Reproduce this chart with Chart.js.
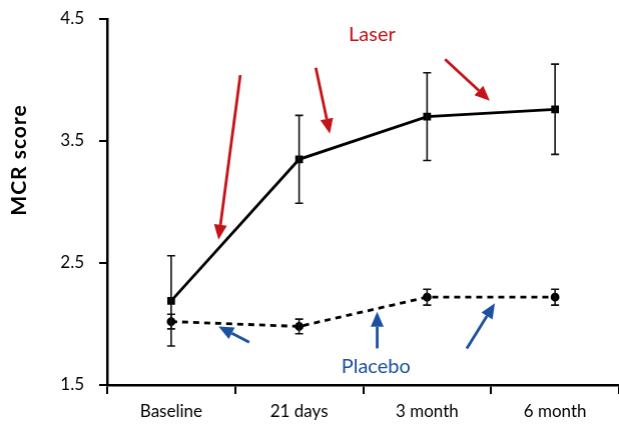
<!DOCTYPE html>
<html><head><meta charset="utf-8">
<script src="https://cdn.jsdelivr.net/npm/chart.js@4/dist/chart.umd.min.js"></script>
<style>html,body{margin:0;padding:0;background:#fff;overflow:hidden}#wrap{width:619px;height:425px}</style>
</head><body><div id="wrap"><canvas id="c"></canvas></div>
<script>
const categories = ['Baseline', '21 days', '3 month', '6 month'];
const laserValues = [2.19, 3.35, 3.70, 3.76];
const laserErrors = [0.37, 0.36, 0.36, 0.37];
const placeboValues = [2.02, 1.98, 2.22, 2.22];
const placeboErrors = [0.06, 0.06, 0.065, 0.065];
const yTicks = [1.5, 2.5, 3.5, 4.5];
const seriesLabels = ['Laser', 'Placebo'];
const yTitle = 'MCR score';

// annotation arrows in data space: [xIndexStart, valueStart, xIndexEnd, valueEnd]
const laserArrows = [[0.54, 4.04, 0.37, 2.69], [1.13, 4.10, 1.24, 3.56], [2.14, 4.17, 2.49, 3.83]];
const placeboArrows = [[0.61, 1.85, 0.37, 1.98], [1.61, 1.80, 1.61, 2.10], [2.31, 1.80, 2.53, 2.17]];
const laserLabelPos = [1.57, 4.37];
const placeboLabelPos = [1.60, 1.65];

const RED = '#c3141a', BLUE = '#1b51a0';
const FONT = 'Lato, "Open Sans", sans-serif';

function arrow(ctx, x1, y1, x2, y2, color) {
  const ang = Math.atan2(y2 - y1, x2 - x1);
  const hl = 15, hw = 6.5;
  const bx = x2 - hl * Math.cos(ang), by = y2 - hl * Math.sin(ang);
  ctx.save();
  ctx.strokeStyle = color; ctx.fillStyle = color; ctx.lineWidth = 2.8;
  ctx.beginPath(); ctx.moveTo(x1, y1); ctx.lineTo(bx, by); ctx.stroke();
  ctx.beginPath();
  ctx.moveTo(x2, y2);
  ctx.lineTo(bx + hw * Math.sin(ang), by - hw * Math.cos(ang));
  ctx.lineTo(bx - hw * Math.sin(ang), by + hw * Math.cos(ang));
  ctx.closePath(); ctx.fill();
  ctx.restore();
}

const extras = {
  id: 'extras',
  afterDatasetsDraw(chart) {
    const ctx = chart.ctx, xs = chart.scales.x, ys = chart.scales.y;
    ctx.save();
    ctx.strokeStyle = '#111'; ctx.lineWidth = 1.6;
    [[laserValues, laserErrors], [placeboValues, placeboErrors]].forEach(([vals, errs]) => {
      vals.forEach((v, i) => {
        const x = xs.getPixelForValue(i);
        const t = ys.getPixelForValue(v + errs[i]), b = ys.getPixelForValue(v - errs[i]);
        ctx.beginPath();
        ctx.moveTo(x, t); ctx.lineTo(x, b);
        ctx.moveTo(x - 4, t); ctx.lineTo(x + 4, t);
        ctx.moveTo(x - 4, b); ctx.lineTo(x + 4, b);
        ctx.stroke();
      });
    });
    ctx.restore();
    laserArrows.forEach(a => arrow(ctx, xs.getPixelForValue(a[0]), ys.getPixelForValue(a[1]), xs.getPixelForValue(a[2]), ys.getPixelForValue(a[3]), RED));
    placeboArrows.forEach(a => arrow(ctx, xs.getPixelForValue(a[0]), ys.getPixelForValue(a[1]), xs.getPixelForValue(a[2]), ys.getPixelForValue(a[3]), BLUE));
    ctx.save();
    ctx.textAlign = 'center'; ctx.textBaseline = 'middle';
    ctx.font = '20px ' + FONT;
    ctx.fillStyle = RED;
    ctx.fillText(seriesLabels[0], xs.getPixelForValue(laserLabelPos[0]), ys.getPixelForValue(laserLabelPos[1]));
    ctx.fillStyle = BLUE;
    ctx.fillText(seriesLabels[1], xs.getPixelForValue(placeboLabelPos[0]), ys.getPixelForValue(placeboLabelPos[1]));
    // y axis title
    ctx.translate(19, 160);
    ctx.rotate(-Math.PI / 2);
    ctx.fillStyle = '#000';
    ctx.font = 'bold 21px ' + FONT;
    try { ctx.letterSpacing = '1px'; } catch (e) {}
    ctx.fillText(yTitle, 0, 0);
    ctx.restore();
  }
};

const chart = new Chart(document.getElementById('c'), {
  type: 'line',
  data: {
    labels: categories,
    datasets: [
      { label: seriesLabels[0], data: laserValues, borderColor: '#000', backgroundColor: '#000', borderWidth: 2.8,
        pointStyle: 'rect', pointRadius: 3.5, tension: 0 },
      { label: seriesLabels[1], data: placeboValues, borderColor: '#000', backgroundColor: '#000', borderWidth: 2.8,
        borderDash: [6, 5], pointStyle: 'circle', pointRadius: 3, tension: 0 }
    ]
  },
  options: {
    responsive: true, maintainAspectRatio: false, animation: false,
    layout: { padding: { top: 19, right: 0, bottom: 0, left: 0 } },
    plugins: { legend: { display: false }, tooltip: { enabled: false } },
    scales: {
      x: {
        offset: true,
        grid: { offset: true, drawOnChartArea: false, drawTicks: true, tickLength: 9, color: '#000', lineWidth: 2 },
        border: { color: '#000', width: 2.5 },
        ticks: { color: '#000', font: { family: FONT, size: 17 }, padding: 7, maxRotation: 0 },
        afterFit(s) { s.height = 40; s.paddingLeft = 0; s.paddingRight = 0; }
      },
      y: {
        min: 1.5, max: 4.5,
        afterBuildTicks(s) { s.ticks = yTicks.map(v => ({ value: v })); },
        grid: { drawOnChartArea: false, drawTicks: true, tickLength: 8, color: '#000', lineWidth: 2 },
        border: { color: '#000', width: 2.5 },
        ticks: { color: '#000', font: { family: FONT, size: 17 }, padding: 15, callback: v => v.toFixed(1) },
        afterFit(s) { s.width = 107; s.paddingTop = 0; s.paddingBottom = 0; }
      }
    }
  },
  plugins: [extras]
});
// stretch the canvas so the plot area reaches the right edge of the 619px window
for (let k = 0; k < 2; k++) {
  const gap = 618 - chart.chartArea.right;
  if (Math.abs(gap) < 0.5) break;
  const wrap = document.getElementById('wrap');
  wrap.style.width = (parseFloat(wrap.style.width || '619') + gap) + 'px';
  chart.resize();
}
</script></body></html>
